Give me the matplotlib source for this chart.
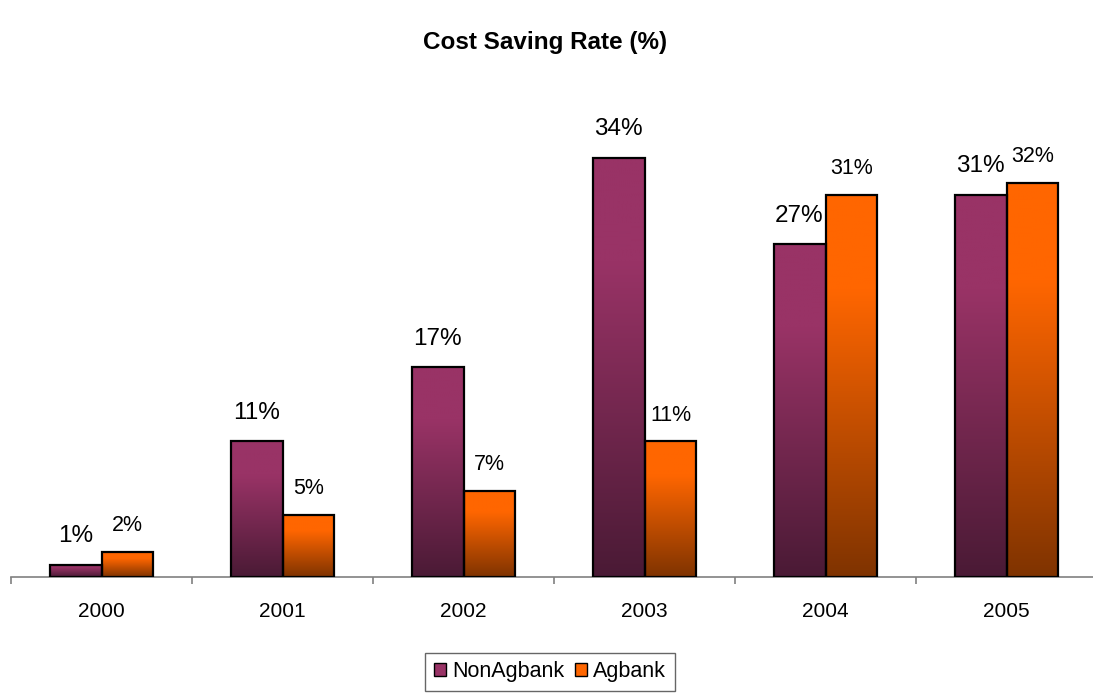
import matplotlib.pyplot as plt
import numpy as np
from matplotlib.colors import to_rgb
from matplotlib.patches import Patch, Rectangle

plt.rcParams['font.family'] = ['Liberation Sans', 'DejaVu Sans']

years = ['2000', '2001', '2002', '2003', '2004', '2005']
non_agbank = [1, 11, 17, 34, 27, 31]
agbank = [2, 5, 7, 11, 31, 32]

purple_top, purple_bottom = '#993366', '#4a1a35'
orange_top, orange_bottom = '#ff6600', '#7f3300'

fig = plt.figure(figsize=(10.93, 6.94), dpi=100)
ax = fig.add_axes([11 / 1093, 117 / 694, 1086 / 1093, 493 / 694])

width = 0.287
x = np.arange(len(years)) + 0.5


def gradient_bar(x0, w, h, top, bottom):
    # solid colour near the top, fading to the dark shade at the base
    t = np.linspace(0, 1, 256)[:, None]
    f = np.clip(t / 0.75, 0, 1)
    top = np.array(to_rgb(top))
    bottom = np.array(to_rgb(bottom))
    img = (bottom + (top - bottom) * f).reshape(256, 1, 3)
    ax.imshow(img, extent=[x0, x0 + w, 0, h], origin='lower',
              aspect='auto', interpolation='bilinear', zorder=2)
    ax.add_patch(Rectangle((x0, 0), w, h, fill=False, edgecolor='black',
                           lw=1.6, zorder=3))


for xi, v in zip(x, non_agbank):
    gradient_bar(xi - width, width, v, purple_top, purple_bottom)
    ax.annotate(f'{v}%', (xi - width / 2, v), xytext=(0, 20.5),
                textcoords='offset points', ha='center', va='center',
                fontsize=17.5)

for xi, v in zip(x, agbank):
    gradient_bar(xi, width, v, orange_top, orange_bottom)
    ax.annotate(f'{v}%', (xi + width / 2, v), xytext=(0, 19),
                textcoords='offset points', ha='center', va='center',
                fontsize=15.5)

ax.set_xlim(0, len(years))
ax.set_ylim(0, 40)

for side in ['top', 'right', 'left']:
    ax.spines[side].set_visible(False)
ax.spines['bottom'].set_color('#808080')
ax.spines['bottom'].set_linewidth(1.2)
ax.set_yticks([])

# ticks between groups, labels under each group
ax.set_xticks(np.arange(len(years) + 1))
ax.set_xticklabels([])
ax.tick_params(axis='x', which='major', length=5, width=1.2, color='#808080',
               direction='out')
ax.set_xticks(x, minor=True)
ax.set_xticklabels(years, minor=True, fontsize=15)
ax.tick_params(axis='x', which='minor', length=0, pad=18)

fig.text(0.499, 1 - 43 / 694, 'Cost Saving Rate (%)', ha='center',
         va='center', fontsize=17.5, fontweight='bold')

handles = [Patch(facecolor=purple_top, edgecolor='black', label='NonAgbank'),
           Patch(facecolor=orange_top, edgecolor='black', label='Agbank')]
leg = fig.legend(handles=handles, loc='center',
                 bbox_to_anchor=(550 / 1093, 1 - 672 / 694), ncol=2,
                 fontsize=15.5, fancybox=False, edgecolor='#404040',
                 handlelength=0.55, handleheight=0.55, handletextpad=0.3,
                 columnspacing=0.5, borderpad=0.4, borderaxespad=0)
leg.get_frame().set_linewidth(1.0)

fig.savefig('out.png', dpi=100)
